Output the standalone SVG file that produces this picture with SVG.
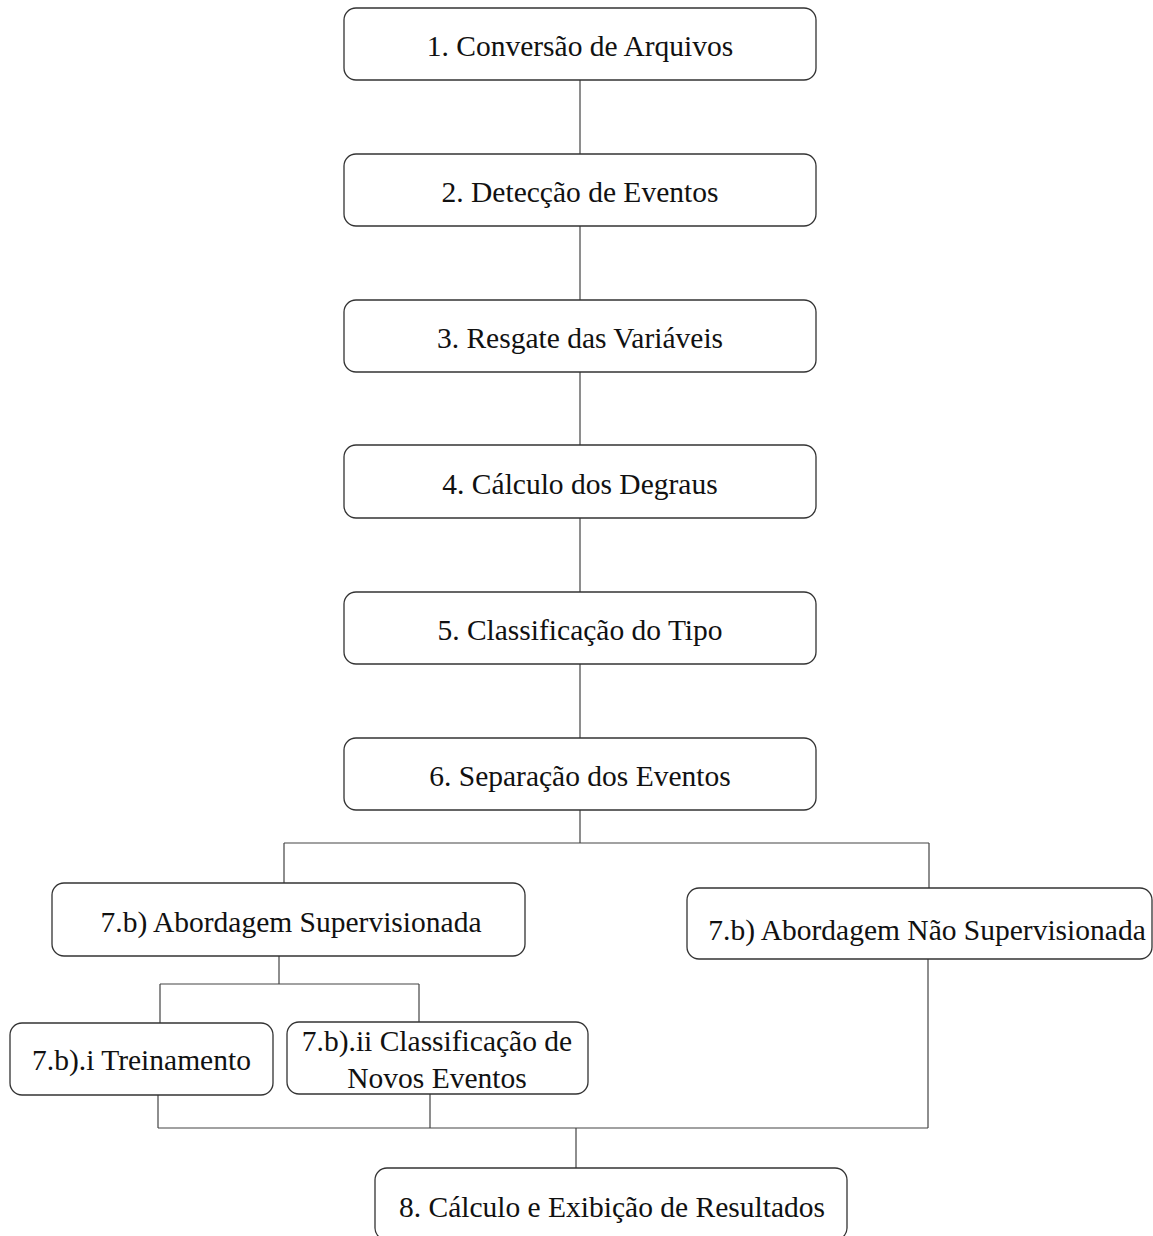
<svg xmlns="http://www.w3.org/2000/svg" width="1153" height="1236" viewBox="0 0 1153 1236">
<style>
.box{fill:#fff;stroke:#333;stroke-width:1.3}
.lbl{font-family:"Liberation Serif","Times New Roman",serif;font-size:29.5px;fill:#111;text-anchor:middle}
.con{fill:none;stroke:#444;stroke-width:1.2}
</style>
<rect width="1153" height="1236" fill="#fff"/>
<g id="connectors">
<path class="con" d="M580 80V154M580 226V300M580 372V445M580 518V592M580 664V738"/>
<path class="con" d="M580 810V843M284 843H929M284 843V883M929 843V888"/>
<path class="con" d="M279 956V984M160 984H419M160 984V1023M419 984V1022"/>
<path class="con" d="M158 1095V1128M430 1094V1128M928 959V1128M158 1128H928M576 1128V1168"/>
</g>
<g id="n1"><rect class="box" x="344" y="8" width="472" height="72" rx="12"/><text class="lbl" x="580" y="56">1. Conversão de Arquivos</text></g>
<g id="n2"><rect class="box" x="344" y="154" width="472" height="72" rx="12"/><text class="lbl" x="580" y="202">2. Detecção de Eventos</text></g>
<g id="n3"><rect class="box" x="344" y="300" width="472" height="72" rx="12"/><text class="lbl" x="580" y="348">3. Resgate das Variáveis</text></g>
<g id="n4"><rect class="box" x="344" y="445" width="472" height="73" rx="12"/><text class="lbl" x="580" y="494">4. Cálculo dos Degraus</text></g>
<g id="n5"><rect class="box" x="344" y="592" width="472" height="72" rx="12"/><text class="lbl" x="580" y="640">5. Classificação do Tipo</text></g>
<g id="n6"><rect class="box" x="344" y="738" width="472" height="72" rx="12"/><text class="lbl" x="580" y="786">6. Separação dos Eventos</text></g>
<g id="n7a"><rect class="box" x="52" y="883" width="473" height="73" rx="12"/><text class="lbl" x="291" y="932">7.b) Abordagem Supervisionada</text></g>
<g id="n7b"><rect class="box" x="687" y="888" width="465" height="71" rx="12"/><text class="lbl" x="927" y="940">7.b) Abordagem Não Supervisionada</text></g>
<g id="n7bi"><rect class="box" x="10" y="1023" width="263" height="72" rx="12"/><text class="lbl" x="141.5" y="1070">7.b).i Treinamento</text></g>
<g id="n7bii"><rect class="box" x="287" y="1022" width="301" height="72" rx="12"/><text class="lbl" x="437" y="1051">7.b).ii Classificação de</text><text class="lbl" x="437" y="1088">Novos Eventos</text></g>
<g id="n8"><rect class="box" x="375" y="1168" width="472" height="72" rx="12"/><text class="lbl" x="612" y="1217">8. Cálculo e Exibição de Resultados</text></g>
</svg>
